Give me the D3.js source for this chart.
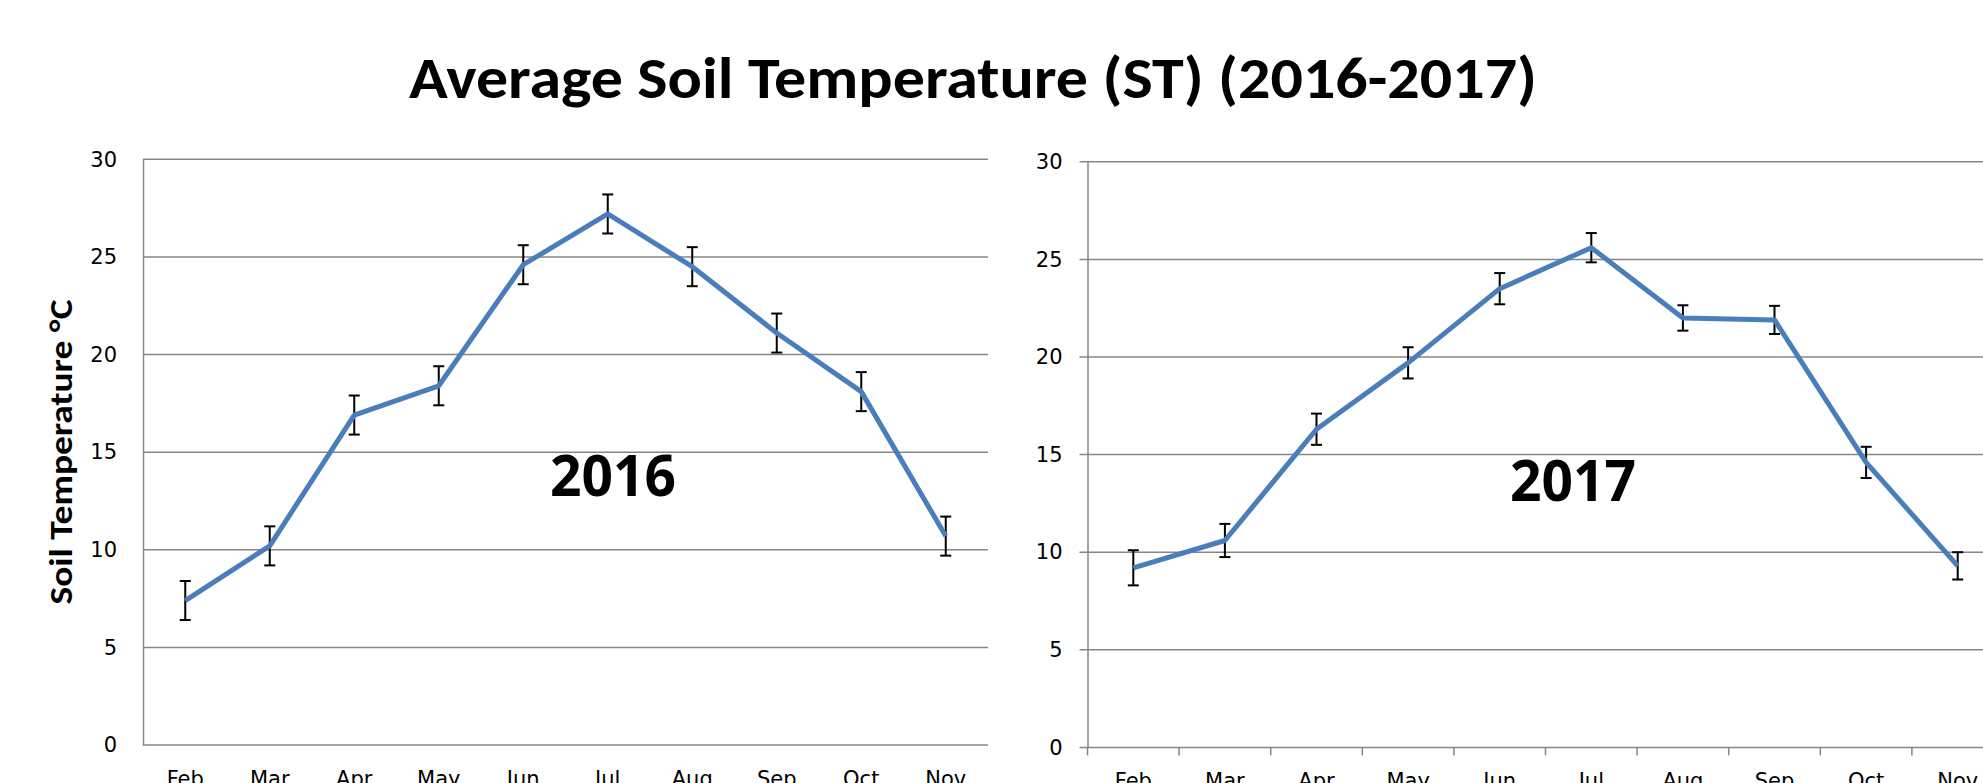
<html>
<head>
    <title>Average Soil Temperature (ST) (2016-2017)</title>
    <style>
        body { margin: 0; background: #fff; }
        svg { display: block; }
    </style>
</head>
<body>
    <svg width="1983" height="783"></svg>

    <script src="https://cdnjs.cloudflare.com/ajax/libs/d3/7.8.5/d3.min.js"></script>
    <script>
        const months = ["Feb", "Mar", "Apr", "May", "Jun", "Jul", "Aug", "Sep", "Oct", "Nov"];
        const yTicks = [0, 5, 10, 15, 20, 25, 30];

        // 2016 mean soil temperature and error bar size
        const st2016 = [7.4, 10.2, 16.9, 18.4, 24.6, 27.2, 24.5, 21.1, 18.1, 10.7];
        const err2016 = [1.0, 1.0, 1.0, 1.0, 1.0, 1.0, 1.0, 1.0, 1.0, 1.0];

        // 2017
        const st2017 = [9.2, 10.6, 16.3, 19.7, 23.5, 25.6, 22.0, 21.9, 14.6, 9.3];
        const err2017 = [0.9, 0.85, 0.8, 0.8, 0.8, 0.75, 0.65, 0.72, 0.8, 0.7];

        const blue = "#4a7ebb";
        const gridColor = "#868686";

        var svg = d3.select("svg");

        svg.append("rect").attr("width", 1983).attr("height", 783).attr("fill", "#fff");

        // main title
        svg.append("text")
            .attr("x", 973).attr("y", 98)
            .attr("text-anchor", "middle")
            .attr("font-family", "Carlito, 'Liberation Sans Narrow', Lato, 'Open Sans', sans-serif")
            .attr("font-weight", "bold")
            .attr("font-size", 58)
            .attr("textLength", 1128)
            .attr("lengthAdjust", "spacingAndGlyphs")
            .text("Average Soil Temperature (ST) (2016-2017)");

        // y axis title (left panel only)
        svg.append("text")
            .attr("transform", "translate(72,452) rotate(-90)")
            .attr("text-anchor", "middle")
            .attr("font-family", "Carlito, 'Liberation Sans Narrow', Lato, 'Open Sans', sans-serif")
            .attr("font-weight", "bold")
            .attr("font-size", 33)
            .attr("textLength", 305)
            .attr("lengthAdjust", "spacingAndGlyphs")
            .text("Soil Temperature °C");

        function drawPanel(p) {
            var x = d3.scaleBand().domain(months).range([p.left, p.right]).padding(0);
            var y = d3.scaleLinear().domain([0, 30]).range([p.bottom, p.top]);

            var g = svg.append("g");

            // horizontal gridlines
            g.selectAll(".grid")
                .data(yTicks)
                .enter()
                .append("line")
                .attr("x1", p.left - p.tick)
                .attr("x2", p.right)
                .attr("y1", d => y(d))
                .attr("y2", d => y(d))
                .attr("stroke", gridColor)
                .attr("stroke-width", 1.5);

            // y axis with labels
            var yAxis = g.append("g")
                .attr("transform", "translate(" + p.left + ",0)")
                .call(d3.axisLeft(y).tickValues(yTicks).tickSize(0).tickSizeOuter(0).tickPadding(p.labelPad));
            yAxis.select(".domain").attr("stroke", gridColor).attr("stroke-width", 1.5);
            yAxis.selectAll("text")
                .attr("font-family", "'DejaVu Sans', Verdana, sans-serif")
                .attr("font-size", 21)
                .attr("fill", "#000");

            // x labels
            var xAxis = g.append("g")
                .attr("transform", "translate(0," + p.bottom + ")")
                .call(d3.axisBottom(x).tickSize(0).tickPadding(26));
            xAxis.select(".domain").remove();
            xAxis.selectAll("text")
                .attr("font-family", "'DejaVu Sans', Verdana, sans-serif")
                .attr("font-size", 21)
                .attr("fill", "#000");

            // x tick marks at category boundaries (right panel has them)
            if (p.tick > 0) {
                g.selectAll(".xtick")
                    .data(months.concat(["end"]))
                    .enter()
                    .append("line")
                    .attr("x1", d => d === "end" ? x.range()[1] : x(d))
                    .attr("x2", d => d === "end" ? x.range()[1] : x(d))
                    .attr("y1", p.bottom)
                    .attr("y2", p.bottom + p.tick)
                    .attr("stroke", gridColor)
                    .attr("stroke-width", 1.5);
            }

            var pts = months.map((m, i) => ({ m: m, v: p.values[i], e: p.errors[i] }));
            var cx = d => x(d.m) + x.bandwidth() / 2;

            // error bars
            var eb = g.selectAll(".err")
                .data(pts)
                .enter()
                .append("g")
                .attr("stroke", "#000")
                .attr("stroke-width", 2);
            eb.append("line")
                .attr("x1", cx).attr("x2", cx)
                .attr("y1", d => y(d.v + d.e)).attr("y2", d => y(d.v - d.e));
            eb.append("line")
                .attr("x1", d => cx(d) - 5.5).attr("x2", d => cx(d) + 5.5)
                .attr("y1", d => y(d.v + d.e)).attr("y2", d => y(d.v + d.e));
            eb.append("line")
                .attr("x1", d => cx(d) - 5.5).attr("x2", d => cx(d) + 5.5)
                .attr("y1", d => y(d.v - d.e)).attr("y2", d => y(d.v - d.e));

            // the series line
            var line = d3.line().x(cx).y(d => y(d.v));
            g.append("path")
                .datum(pts)
                .attr("d", line)
                .attr("fill", "none")
                .attr("stroke", blue)
                .attr("stroke-width", 5)
                .attr("stroke-linejoin", "round");

            // year label
            g.append("text")
                .attr("x", p.yearX).attr("y", p.yearY)
                .attr("text-anchor", "middle")
                .attr("font-family", "'Open Sans', 'DejaVu Sans', sans-serif")
                .attr("font-weight", "bold")
                .attr("font-size", 57)
                .attr("textLength", 126)
                .attr("lengthAdjust", "spacingAndGlyphs")
                .text(p.year);
        }

        drawPanel({
            left: 143, right: 988, top: 159.3, bottom: 745,
            tick: 0, labelPad: 26,
            values: st2016, errors: err2016,
            year: "2016", yearX: 613, yearY: 496
        });

        drawPanel({
            left: 1087.5, right: 2003.5, top: 161.8, bottom: 747.4,
            tick: 8, labelPad: 25,
            values: st2017, errors: err2017,
            year: "2017", yearX: 1573, yearY: 501
        });
    </script>
</body>
</html>
